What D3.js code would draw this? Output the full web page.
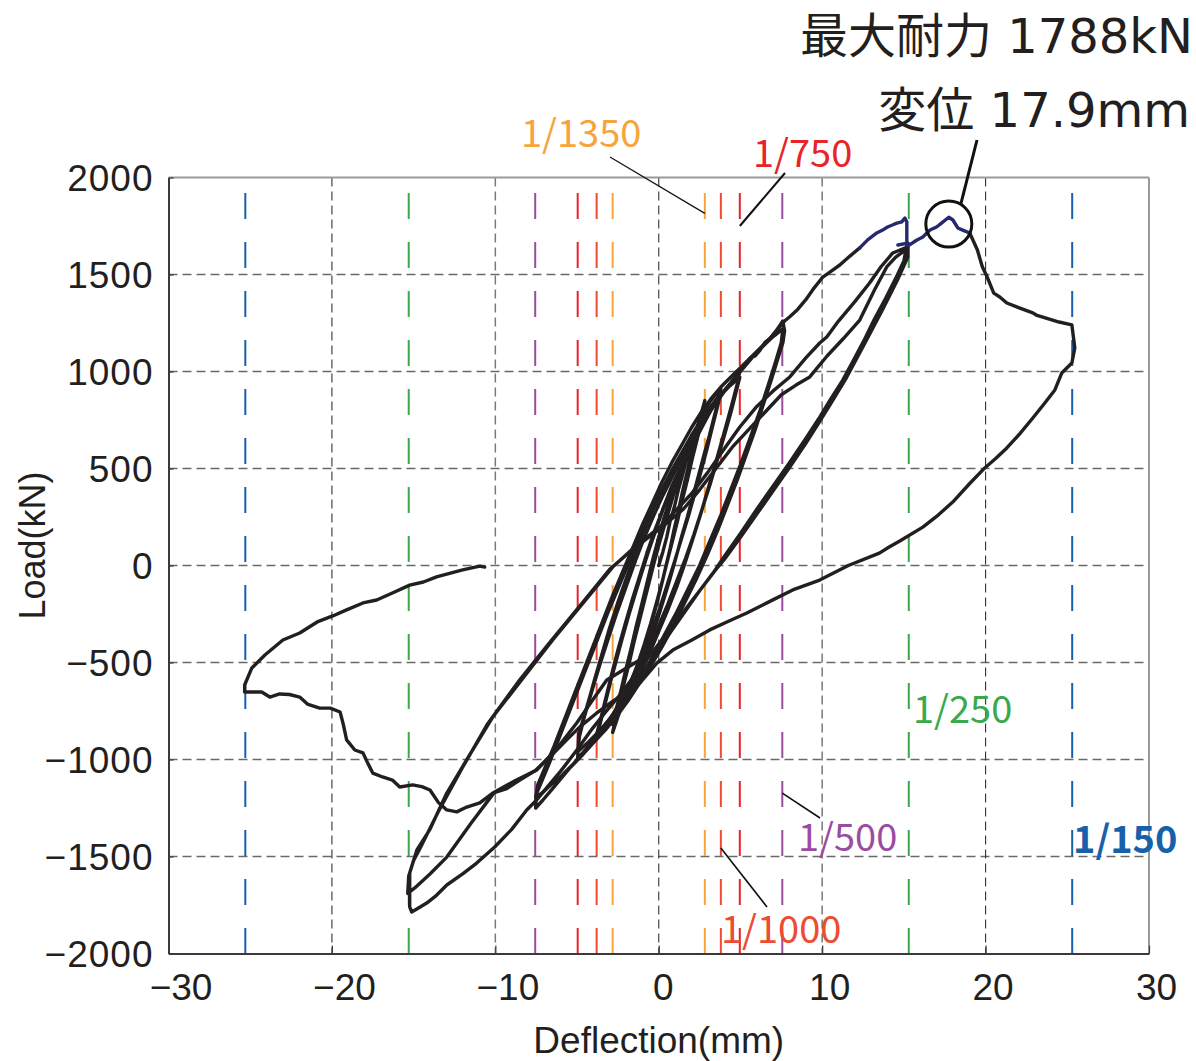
<!DOCTYPE html>
<html><head><meta charset="utf-8">
<script src="https://cdn.jsdelivr.net/npm/d3@7"></script>
<style>
html,body{margin:0;padding:0;background:#fff;}
svg{display:block;}
</style></head>
<body>
<svg id="chart" width="1196" height="1061"></svg>
<script>
// ---------------- DATA ----------------
const xTicks = [-30, -20, -10, 0, 10, 20, 30];
const yTicks = [-2000, -1500, -1000, -500, 0, 500, 1000, 1500, 2000];
const gridX = [-20, -10, 0, 10, 20];
const gridY = [-1500, -1000, -500, 0, 500, 1000, 1500];

const driftNames = ["1/150", "1/250", "1/500", "1/750", "1/1000", "1/1350"];
const driftMm = [25.3, 15.3, 7.56, 4.96, 3.8, 2.82];

const peakLoad = 1788;      // kN
const peakDeflection = 17.9; // mm

// cycles at 1/1350
const cycle1350 = [[0,0],[0.25,70],[0.5,150],[0.7,230],[0.95,300],[1.2,390],[1.4,450],[1.65,530],[1.85,590],[2.1,650],[2.3,700],[2.55,770],[2.82,850],
[2.7,800],[2.45,720],[2.2,640],[1.95,560],[1.7,470],[1.45,380],[1.2,280],[0.95,190],[0.7,90],[0.45,0],[0.2,-90],[-0.1,-190],[-0.45,-300],[-0.8,-400],[-1.15,-490],[-1.5,-570],[-1.85,-640],[-2.2,-710],[-2.5,-780],[-2.82,-860],
[-2.65,-790],[-2.4,-700],[-2.1,-600],[-1.8,-500],[-1.5,-390],[-1.2,-290],[-0.9,-190],[-0.6,-90],[-0.3,10],[0.05,120],[0.4,220],[0.75,320],[1.1,420],[1.45,500],[1.8,580],[2.15,660],[2.5,730],[2.82,800],
[2.6,740],[2.35,650],[2.05,550],[1.75,440],[1.45,340],[1.15,230],[0.85,130],[0.55,30],[0.25,-70],[-0.1,-180],[-0.5,-300],[-0.9,-410],[-1.3,-510],[-1.7,-600],[-2.1,-680],[-2.5,-760],[-2.82,-820],
[-2.6,-740],[-2.3,-640],[-2.0,-530],[-1.7,-430],[-1.4,-320],[-1.1,-220],[-0.75,-100],[-0.4,20],[-0.05,130]];

// cycles at 1/1000
const cycle1000 = [[-0.05,130],[0.3,240],[0.65,330],[1.0,420],[1.35,510],[1.7,580],[2.05,650],[2.4,720],[2.75,790],[3.1,840],[3.45,880],[3.8,910],
[3.65,850],[3.4,770],[3.1,670],[2.8,580],[2.45,470],[2.1,360],[1.75,250],[1.4,150],[1.05,40],[0.65,-80],[0.25,-190],[-0.2,-310],[-0.65,-420],[-1.1,-520],[-1.55,-610],[-2.0,-690],[-2.45,-750],[-2.9,-800],[-3.35,-850],[-3.8,-890],
[-3.6,-820],[-3.3,-720],[-2.95,-600],[-2.6,-490],[-2.25,-380],[-1.85,-260],[-1.45,-150],[-1.05,-40],[-0.6,80],[-0.15,190],[0.3,300],[0.8,410],[1.3,500],[1.8,590],[2.3,670],[2.8,760],[3.3,830],[3.8,890],
[3.6,820],[3.3,720],[2.95,600],[2.6,490],[2.2,370],[1.8,250],[1.4,140],[1.0,30],[0.55,-90],[0.1,-210],[-0.4,-330],[-0.9,-440],[-1.4,-540],[-1.9,-630],[-2.4,-710],[-2.9,-780],[-3.35,-830],[-3.8,-870],
[-3.55,-790],[-3.2,-670],[-2.85,-550],[-2.45,-420],[-2.05,-300],[-1.6,-170],[-1.15,-50],[-0.7,70]];

// cycles at 1/750
const cycle750 = [[-0.7,70],[-0.25,180],[0.25,290],[0.75,390],[1.25,480],[1.75,570],[2.25,650],[2.75,730],[3.2,800],[3.7,860],[4.1,910],[4.5,950],[4.96,1005],
[4.85,950],[4.6,870],[4.25,760],[3.85,640],[3.45,520],[3.0,390],[2.55,260],[2.1,140],[1.6,10],[1.1,-110],[0.55,-230],[0.0,-340],[-0.55,-450],[-1.1,-550],[-1.65,-640],[-2.2,-720],[-2.75,-790],[-3.3,-850],[-3.85,-900],[-4.4,-950],[-4.96,-990],
[-4.9,-870],[-4.65,-800],[-4.3,-700],[-3.9,-580],[-3.45,-450],[-3.0,-320],[-2.5,-190],[-2.0,-70],[-1.5,50],[-0.95,170],[-0.4,280],[0.2,390],[0.8,490],[1.4,580],[2.0,670],[2.6,750],[3.2,820],[3.8,880],[4.4,930],[4.96,970],
[4.75,900],[4.45,800],[4.05,680],[3.6,550],[3.15,420],[2.65,290],[2.15,160],[1.65,40],[1.1,-80],[0.55,-200],[0.0,-310],[-0.6,-420],[-1.2,-530],[-1.8,-630],[-2.4,-720],[-3.0,-790],[-3.6,-850],[-4.3,-910],[-4.96,-960],
[-4.85,-880],[-4.55,-780],[-4.1,-650],[-3.6,-510],[-3.1,-380],[-2.55,-240],[-2.0,-110],[-1.45,20]];

// cycles at 1/500
const cycle500 = [[-1.45,20],[-0.9,140],[-0.35,250],[0.25,360],[0.85,460],[1.45,560],[2.05,650],[2.65,730],[3.25,810],[3.85,880],[4.4,940],[4.96,1005],[5.3,1030],[5.6,1070],[5.9,1080],[6.2,1110],[6.5,1150],[6.8,1170],[7.1,1200],[7.35,1230],[7.59,1260],
[7.7,1210],[7.6,1150],[7.3,1070],[6.9,960],[6.4,830],[5.9,700],[5.35,570],[4.8,440],[4.2,310],[3.6,180],[3.0,60],[2.3,-70],[1.6,-190],[0.9,-310],[0.2,-420],[-0.5,-520],[-1.2,-610],[-1.9,-700],[-2.6,-780],[-3.3,-850],[-4.0,-910],[-4.7,-980],[-5.4,-1040],[-6.0,-1100],[-6.6,-1160],[-7.1,-1210],[-7.53,-1250],
[-7.5,-1180],[-7.2,-1120],[-6.7,-1020],[-6.1,-890],[-5.5,-760],[-4.9,-630],[-4.3,-500],[-3.7,-370],[-3.1,-240],[-2.5,-120],[-1.9,0],[-1.3,120],[-0.7,230],[-0.1,340],[0.5,440],[1.1,530],[1.7,620],[2.3,700],[2.9,780],[3.5,850],[4.1,910],[4.7,970],[5.3,1030],[5.9,1090],[6.5,1140],[7.0,1180],[7.59,1220],
[7.5,1150],[7.15,1050],[6.7,930],[6.2,800],[5.6,660],[5.0,520],[4.4,390],[3.8,260],[3.15,130],[2.5,0],[1.8,-120],[1.1,-240],[0.4,-350],[-0.3,-460],[-1.0,-560],[-1.7,-650],[-2.4,-740],[-3.1,-810],[-3.8,-880],[-4.5,-950],[-5.2,-1020],[-5.9,-1080],[-6.6,-1130],[-7.1,-1170],[-7.53,-1195],
[-7.4,-1130],[-7.0,-1050],[-6.4,-930],[-5.8,-800],[-5.2,-670],[-4.6,-540],[-4.0,-410],[-3.4,-280],[-2.8,-150],[-2.2,-30],[-1.6,90]];

// first loading to 1/250
const cycle250Load = [[-1.6,90],[-1.0,210],[-0.4,320],[0.2,430],[0.8,530],[1.4,620],[2.0,710],[2.6,790],[3.2,860],[3.8,920],[4.4,970],[5.0,1020],[5.6,1070],[6.2,1120],[6.8,1170],[7.3,1220],[7.7,1260],[8.0,1281],[8.5,1320],[9.0,1370],[9.5,1430],[10.04,1487],[10.6,1520],[11.08,1549],[11.7,1595],[12.3,1637]];

// highlighted peak of first 1/250 cycle
const peakPath1 = [[12.3,1637],[12.8,1680],[13.34,1714],[13.7,1729],[14.0,1745],[14.3,1755],[14.57,1765],[14.87,1771],[15.06,1791],[15.18,1771],[15.18,1650]];

// rest of 1/250 cycles
const cycle250Rest = [[15.18,1650],[15.0,1570],[14.5,1480],[13.9,1380],[13.2,1270],[12.5,1150],[11.8,1040],[11.26,956],[10.5,855],[9.85,765],[9.0,655],[8.0,530],[7.0,410],[6.0,290],[5.0,165],[4.0,45],[3.4,-30],
[2.5,-130],[1.5,-240],[0.5,-350],[-0.5,-460],[-1.5,-570],[-2.5,-680],[-3.3,-760],[-4.04,-838],[-5.0,-950],[-6.0,-1060],[-6.8,-1140],[-7.47,-1209],[-8.08,-1260],[-9.0,-1360],[-10.04,-1451],[-11.14,-1534],[-12.0,-1590],[-12.97,-1647],[-13.6,-1700],[-14.2,-1740],[-14.6,-1760],[-15.12,-1786],
[-15.24,-1760],[-15.24,-1621],[-15.24,-1585],[-14.8,-1466],[-14.0,-1360],[-12.97,-1173],[-11.6,-980],[-10.16,-781],[-8.3,-580],[-6.49,-384],[-4.6,-190],[-2.82,-8],[-1.4,100],[0.06,198],
[1.0,280],[2.0,370],[3.0,480],[4.0,600],[4.96,714],[6.0,820],[7.0,900],[8.02,972],[9.0,1070],[9.85,1147],[10.28,1178],[11.0,1260],[12.0,1360],[12.9,1456],[13.6,1540],[14.32,1611],[15.24,1642],
[15.24,1590],[14.6,1470],[13.7,1320],[12.7,1160],[11.5,970],[10.6,845],[9.9,750],[9.0,630],[8.0,505],[7.0,385],[6.0,265],[5.0,145],[4.0,30],[3.5,-20],
[2.5,-130],[1.5,-250],[0.5,-370],[-0.3,-440],[-1.16,-487],[-2.2,-540],[-3.18,-590],[-4.1,-700],[-5.02,-812],[-6.2,-940],[-7.47,-1054],[-8.8,-1110],[-10.04,-1167],[-11.5,-1330],[-12.97,-1503],[-14.0,-1590],[-14.93,-1662],[-15.36,-1690],
[-15.3,-1600],[-15.0,-1520],[-14.5,-1440],[-13.5,-1270],[-12.0,-1040],[-10.5,-820],[-8.6,-600],[-6.7,-400],[-4.8,-205],[-3.0,-20],[-1.5,90],[0.0,185],
[1.5,290],[2.5,390],[3.5,500],[4.5,610],[5.5,700],[6.5,790],[7.5,880],[8.4,930],[9.24,972],[10.3,1080],[11.3,1170],[12.3,1265],[13.2,1420],[13.95,1539],[14.5,1590],[14.93,1616],[15.24,1640]];

// highlighted maximum-strength region of the final loading
const peakPath2 = [[14.63,1652],[15.24,1662],[15.3,1650],[15.8,1678],[16.16,1693],[16.6,1729],[17.0,1745],[17.3,1765],[17.75,1795],[18.0,1781],[18.3,1740],[18.6,1729],[19.03,1714]];

// final cycle to 1/150 and end of test
const finalCycle = [[19.03,1714],[19.5,1626],[19.8,1540],[20.1,1487],[20.5,1404],[20.87,1384],[21.3,1353],[22.1,1327],[22.89,1302],[23.1,1291],[24.1,1265],[24.5,1255],[25.28,1240],[25.46,1121],[25.28,1044],
[24.66,992],[24.24,905],[23.6,835],[22.89,760],[22.1,680],[21.3,606],[20.6,550],[19.95,503],[19.0,420],[17.99,327],[17.1,260],[16.16,198],[14.75,126],[14.1,95],[13.5,64],[11.6,0],[9.85,-75],[8.2,-126],[6.8,-185],[5.39,-245],[4.2,-290],[3.12,-332],[2.0,-385],[0.86,-436],[-0.12,-503],[-1.16,-606],
[-2.0,-660],[-2.82,-700],[-3.79,-760],[-4.83,-832],[-5.63,-899],[-6.85,-1003],[-7.6,-1060],[-8.5,-1106],[-9.3,-1150],[-10.16,-1173],[-10.95,-1224],[-11.75,-1245],[-12.36,-1270],[-12.97,-1260],[-13.5,-1220],[-14.0,-1157],[-14.5,-1140],[-15.06,-1131],[-15.85,-1142],[-16.3,-1106],[-16.9,-1090],[-17.5,-1070],[-17.8,-1020],[-18.1,-966],[-18.6,-951],[-19.1,-899],[-19.3,-820],[-19.5,-755],[-20.1,-735],[-20.75,-735],[-21.5,-714],[-21.97,-678],[-22.6,-665],[-23.2,-662],[-23.8,-678],[-24.3,-652],[-25.0,-652],[-25.34,-652],
[-25.34,-616],[-24.9,-528],[-24.1,-461],[-23.0,-384],[-21.97,-348],[-20.9,-291],[-19.95,-260],[-19.1,-229],[-18.1,-193],[-17.26,-178],[-16.3,-142],[-15.24,-101],[-14.4,-85],[-13.6,-59],[-12.0,-23],[-10.95,-3],[-10.65,-8]];

// ---------------- STYLE ----------------
const driftColor = {"1/150":"#1761ac","1/250":"#39a94c","1/500":"#9b4ca0","1/750":"#e8232a","1/1000":"#ee4b30","1/1350":"#f8a43c"};
const labelFont = "'Noto Sans CJK JP', 'Noto Sans', sans-serif";
const axisFont = "'Liberation Sans', Arial, sans-serif";
const ink = "#231f20";

const svg = d3.select("#chart");
const x = d3.scaleLinear().domain([-30, 30]).range([168.5, 1149]);
const y = d3.scaleLinear().domain([-2000, 2000]).range([953.5, 177.5]);
const X0 = x.range()[0], X1 = x.range()[1], Y0 = y.range()[0], Y1 = y.range()[1];
const fmt = d => d < 0 ? "\u2212" + Math.abs(d) : String(d);

// grid
svg.append("g").selectAll("line").data(gridY).join("line")
  .attr("x1", X0).attr("x2", X1).attr("y1", d => y(d)).attr("y2", d => y(d))
  .attr("stroke", "#6a6a6a").attr("stroke-width", 1.3).attr("stroke-dasharray", "9,5");
svg.append("g").selectAll("line").data(gridX).join("line")
  .attr("x1", d => x(d)).attr("x2", d => x(d)).attr("y1", Y1).attr("y2", Y0)
  .attr("stroke", d => Math.abs(d) === 10 ? "#7a7a7a" : "#333").attr("stroke-width", d => Math.abs(d) === 10 ? 1.5 : 1.1)
  .attr("stroke-dasharray", "9,5");

// drift lines (both signs)
const driftLines = [];
driftNames.forEach((n, i) => { driftLines.push({n, v: driftMm[i]}); driftLines.push({n, v: -driftMm[i]}); });
svg.append("g").selectAll("line").data(driftLines).join("line")
  .attr("x1", d => x(d.v)).attr("x2", d => x(d.v)).attr("y1", y(1920)).attr("y2", Y0)
  .attr("stroke", d => driftColor[d.n]).attr("stroke-width", 2).attr("stroke-dasharray", "26,23");

// frame top/right
svg.append("line").attr("x1", X0).attr("x2", X1).attr("y1", Y1).attr("y2", Y1).attr("stroke", "#9a9a9a").attr("stroke-width", 2);
svg.append("line").attr("x1", X1).attr("x2", X1).attr("y1", Y1).attr("y2", Y0).attr("stroke", "#9a9a9a").attr("stroke-width", 2);

// axes
const gx = svg.append("g").attr("transform", `translate(0,${Y0})`)
  .call(d3.axisBottom(x).tickValues(xTicks).tickSize(-8).tickSizeOuter(0).tickFormat(fmt));
gx.select(".domain").attr("stroke", "#3a3a3a").attr("stroke-width", 2);
gx.selectAll(".tick line").attr("stroke", "#3a3a3a").attr("stroke-width", 1.2);
gx.selectAll(".tick text").attr("y", 46).attr("dy", 0)
  .attr("dx", d => d < 0 ? 12 : (d === 0 ? 4 : 7))
  .style("font-family", axisFont).style("font-size", "37px").attr("fill", ink);

const gy = svg.append("g").attr("transform", `translate(${X0},0)`)
  .call(d3.axisLeft(y).tickValues(yTicks).tickSize(-5).tickSizeOuter(0).tickPadding(15).tickFormat(fmt));
gy.select(".domain").attr("stroke", "#3a3a3a").attr("stroke-width", 2);
gy.selectAll(".tick line").attr("stroke", "#3a3a3a").attr("stroke-width", 1.2);
gy.selectAll(".tick text").attr("dy", "0.34em")
  .style("font-family", axisFont).style("font-size", "37px").style("letter-spacing", "1px").attr("fill", ink);

// axis titles
svg.append("text").attr("x", (X0 + X1) / 2).attr("y", 1053).attr("text-anchor", "middle")
  .style("font-family", axisFont).style("font-size", "37px").attr("fill", ink).text("Deflection(mm)");
svg.append("text").attr("transform", `translate(45,${(Y0 + Y1) / 2 - 20}) rotate(-90)`).attr("text-anchor", "middle")
  .style("font-family", axisFont).style("font-size", "36px").attr("fill", ink).text("Load(kN)");

// hysteresis curves
const line = d3.line().x(d => x(d[0])).y(d => y(d[1]));
const curves = [cycle1350, cycle1000, cycle750, cycle500, cycle250Load, cycle250Rest, finalCycle];
svg.append("g").selectAll("path").data(curves).join("path")
  .attr("d", line).attr("fill", "none").attr("stroke", ink).attr("stroke-width", 3.4)
  .attr("stroke-linejoin", "round").attr("stroke-linecap", "round");
svg.append("g").selectAll("path").data([peakPath1, peakPath2]).join("path")
  .attr("d", line).attr("fill", "none").attr("stroke", "#26296e").attr("stroke-width", 3.4)
  .attr("stroke-linejoin", "round").attr("stroke-linecap", "round");

// annotations: drift labels
const labelPos = {"1/1350":[521,147,false],"1/750":[753,167,false],"1/500":[798,851,false],"1/1000":[721,943,false],"1/250":[913,723,false],"1/150":[1073,853,true]};
svg.append("g").selectAll("text").data(driftNames).join("text")
  .attr("x", d => labelPos[d][0]).attr("y", d => labelPos[d][1])
  .style("font-family", labelFont).style("font-size", "38px")
  .style("font-weight", d => labelPos[d][2] ? "bold" : "normal")
  .attr("fill", d => driftColor[d]).text(d => d);

// leader lines (end anchored on drift lines)
const leaders = [
  {from:[610,157], to:[driftMm[5], 1815], w:1.2},
  {from:[785,173], to:[driftMm[3], 1750], w:2},
  {from:[820,818], to:[driftMm[2], -1173], w:1.6},
  {from:[767,907], to:[driftMm[4], -1456], w:1.6}
];
svg.append("g").selectAll("line").data(leaders).join("line")
  .attr("x1", d => d.from[0]).attr("y1", d => d.from[1])
  .attr("x2", d => x(d.to[0])).attr("y2", d => y(d.to[1]))
  .attr("stroke", "#111").attr("stroke-width", d => d.w);

// peak circle + title
const cx = x(17.75), cy = y(1760);
svg.append("circle").attr("cx", cx).attr("cy", cy).attr("r", 23)
  .attr("fill", "none").attr("stroke", "#111").attr("stroke-width", 3);
svg.append("line").attr("x1", 977).attr("y1", 140).attr("x2", cx + 12).attr("y2", cy - 20)
  .attr("stroke", "#111").attr("stroke-width", 3);
const titleFont = "'DejaVu Sans', 'Noto Sans CJK JP', sans-serif";
svg.append("text").attr("x", 1193).attr("y", 53).attr("text-anchor", "end")
  .style("font-family", titleFont).style("font-size", "48px").attr("fill", ink)
  .text(`最大耐力 ${peakLoad}kN`);
svg.append("text").attr("x", 1190).attr("y", 127).attr("text-anchor", "end")
  .style("font-family", titleFont).style("font-size", "48px").attr("fill", ink)
  .text(`変位 ${peakDeflection}mm`);
</script>
</body></html>
